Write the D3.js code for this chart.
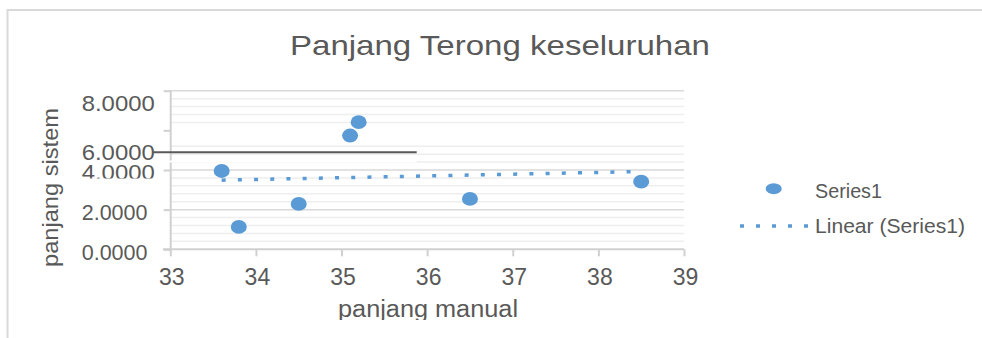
<!DOCTYPE html>
<html>
<head>
<meta charset="utf-8">
<script src="https://cdn.jsdelivr.net/npm/d3@7"></script>
<style>
  html, body { margin: 0; padding: 0; background: #ffffff; }
  svg { display: block; }
  text { font-family: "Liberation Sans", Arial, sans-serif; fill: #595959; }
</style>
</head>
<body>
<svg id="chart" width="982" height="338"></svg>
<script>
// Measurements: manual length vs. system length of the eggplants
const panjangManual = [33.6, 33.8, 34.5, 35.1, 35.2, 36.5, 38.5];
const panjangSistem = [3.95, 1.13, 2.29, 5.74, 6.41, 2.54, 3.41];

const xTickValues = [33, 34, 35, 36, 37, 38, 39];
const yTickValues = [0, 2, 4, 6, 8];

const chartTitle = "Panjang Terong keseluruhan";
const xTitle = "panjang manual";
const yTitle = "panjang sistem";
const seriesName = "Series1";
const trendName = "Linear (Series1)";

const blue = "#5b9bd5";
const svg = d3.select("#chart");

const x = d3.scaleLinear().domain([33, 39]).range([170.3, 684]);
const y = d3.scaleLinear().domain([0, 8]).range([249.3, 90.7]);

// chart frame (top and left edges)
svg.append("line").attr("x1", 7).attr("x2", 982).attr("y1", 10).attr("y2", 10)
  .attr("stroke", "#d9d9d9").attr("stroke-width", 2);
svg.append("line").attr("x1", 7.5).attr("x2", 7.5).attr("y1", 9).attr("y2", 338)
  .attr("stroke", "#d9d9d9").attr("stroke-width", 2);

// title
svg.append("text")
  .attr("x", 290).attr("y", 55)
  .attr("font-size", 28)
  .attr("textLength", 420).attr("lengthAdjust", "spacingAndGlyphs")
  .text(chartTitle);

// minor gridlines every 0.4 (the band around 6 is left empty)
const minor = d3.range(0, 8.0001, 0.4)
  .filter(v => Math.abs(v % 2) > 0.01 && Math.abs(v % 2 - 2) > 0.01)
  .filter(v => Math.abs(v - 5.6) > 0.05);
svg.append("g").selectAll("line").data(minor).join("line")
  .attr("x1", x(33)).attr("x2", x(39))
  .attr("y1", d => y(d)).attr("y2", d => y(d))
  .attr("stroke", "#eeeeee").attr("stroke-width", 1.5);

// major gridlines
const major = yTickValues.filter(v => v !== 0 && v !== 6);
svg.append("g").selectAll("line").data(major).join("line")
  .attr("x1", x(33)).attr("x2", x(39))
  .attr("y1", d => y(d)).attr("y2", d => y(d))
  .attr("stroke", "#d9d9d9").attr("stroke-width", 1.5);

// x axis
const xAxis = svg.append("g")
  .attr("transform", `translate(0,${y(0)})`)
  .call(d3.axisBottom(x).tickValues(xTickValues).tickSize(7).tickSizeOuter(0)
    .tickFormat(d3.format("d")));
xAxis.select(".domain").remove();
xAxis.append("line").attr("x1", 163).attr("x2", x(39)).attr("y1", 0).attr("y2", 0)
  .attr("stroke", "#d0d0d0").attr("stroke-width", 2);
xAxis.selectAll(".tick line").attr("stroke", "#d0d0d0").attr("stroke-width", 2);
xAxis.selectAll(".tick text")
  .attr("y", 35.7).attr("dy", 0).attr("dx", 1)
  .attr("font-size", 23).attr("fill", "#595959")
  .attr("font-family", "Liberation Sans, Arial, sans-serif");

// y axis
const yAxis = svg.append("g")
  .attr("transform", `translate(170.7,0)`)
  .call(d3.axisLeft(y).tickValues(yTickValues).tickSize(7).tickSizeOuter(0)
    .tickFormat(d3.format(".4f")));
yAxis.select(".domain").remove();
yAxis.append("line").attr("x1", 0).attr("x2", 0).attr("y1", y(8)).attr("y2", y(0) + 1)
  .attr("stroke", "#d0d0d0").attr("stroke-width", 2);
yAxis.selectAll(".tick line").attr("stroke", "#d0d0d0").attr("stroke-width", 2);

// label offsets for the upper labels, which sit lower than their ticks
const labelShift = { 8: 12, 6: 21.8 };
yAxis.selectAll(".tick text")
  .attr("text-anchor", "start")
  .attr("x", -89)
  .attr("dy", "0.35em")
  .attr("y", d => labelShift[d] !== undefined ? labelShift[d] : 2.3)
  .attr("font-size", 21.5).attr("fill", "#595959")
  .attr("font-family", "Liberation Sans, Arial, sans-serif")
  .each(function(d) {
    if (d >= 4) d3.select(this).attr("textLength", 73).attr("lengthAdjust", "spacingAndGlyphs");
  });

// clip the lower edge of the 4.0000 label
svg.append("clipPath").attr("id", "clip4")
  .append("rect").attr("x", -200).attr("y", -20).attr("width", 300).attr("height", 178 - y(4) + 20);
yAxis.selectAll(".tick").filter(d => d === 4).select("text").attr("clip-path", "url(#clip4)");

// white break line across the upper-left region
svg.append("rect").attr("x", 153).attr("y", 160.5).attr("width", 264).attr("height", 2)
  .attr("fill", "#ffffff");

// dark rule at the 6.0000 label
svg.append("line").attr("x1", 153.3).attr("x2", 416.7).attr("y1", 152.3).attr("y2", 152.3)
  .attr("stroke", "#595959").attr("stroke-width", 2);

// axis titles
svg.append("text")
  .attr("transform", `translate(58,${187.5}) rotate(-90)`)
  .attr("text-anchor", "middle")
  .attr("font-size", 22)
  .attr("textLength", 159).attr("lengthAdjust", "spacingAndGlyphs")
  .text(yTitle);

svg.append("clipPath").attr("id", "clipBottom")
  .append("rect").attr("x", 0).attr("y", 0).attr("width", 982).attr("height", 320);
svg.append("text")
  .attr("clip-path", "url(#clipBottom)")
  .attr("x", 338).attr("y", 316.7)
  .attr("font-size", 23)
  .attr("textLength", 180).attr("lengthAdjust", "spacingAndGlyphs")
  .text(xTitle);

// linear trendline (least squares)
const n = panjangManual.length;
const mx = d3.mean(panjangManual), my = d3.mean(panjangSistem);
let sxy = 0, sxx = 0;
for (let i = 0; i < n; i++) {
  sxy += (panjangManual[i] - mx) * (panjangSistem[i] - my);
  sxx += (panjangManual[i] - mx) ** 2;
}
const slope = sxy / sxx, intercept = my - slope * mx;
const [x0, x1] = d3.extent(panjangManual);
svg.append("line")
  .attr("x1", x(x0)).attr("y1", y(intercept + slope * x0))
  .attr("x2", x(x1)).attr("y2", y(intercept + slope * x1))
  .attr("stroke", blue).attr("stroke-width", 3.5).attr("stroke-dasharray", "4 12.2");

// data points
svg.append("g").selectAll("ellipse").data(panjangManual.map((v, i) => [v, panjangSistem[i]]))
  .join("ellipse")
  .attr("cx", d => x(d[0])).attr("cy", d => y(d[1]))
  .attr("rx", 8).attr("ry", 6.9)
  .attr("fill", blue);

// legend
const legend = svg.append("g");
legend.append("ellipse").attr("cx", 773.7).attr("cy", 188.7).attr("rx", 8).attr("ry", 5.5)
  .attr("fill", blue);
legend.append("text").attr("x", 815).attr("y", 198.3).attr("font-size", 20.5)
  .attr("textLength", 67).attr("lengthAdjust", "spacingAndGlyphs").text(seriesName);
legend.append("line").attr("x1", 740).attr("x2", 808).attr("y1", 226).attr("y2", 226)
  .attr("stroke", blue).attr("stroke-width", 3.5).attr("stroke-dasharray", "4 12");
legend.append("text").attr("x", 815).attr("y", 233.3).attr("font-size", 20.5)
  .attr("textLength", 150).attr("lengthAdjust", "spacingAndGlyphs").text(trendName);
</script>
</body>
</html>
